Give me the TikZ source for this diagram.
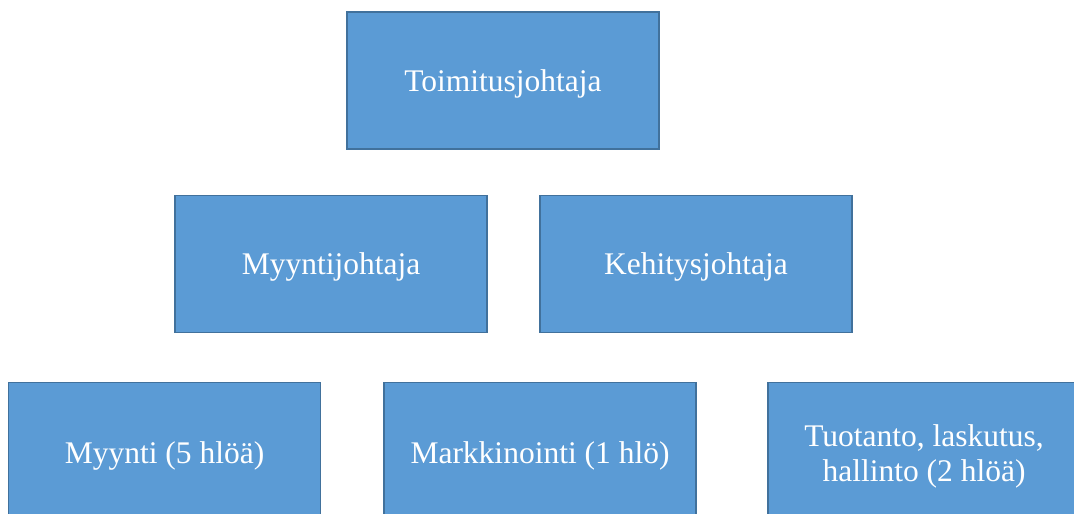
\documentclass[tikz,border=0pt]{standalone}
\usepackage{fontspec}
\setmainfont{Liberation Serif}
\definecolor{boxfill}{HTML}{5B9BD5}
\definecolor{boxline}{HTML}{41719C}
\begin{document}
\begin{tikzpicture}[x=1pt,y=-1pt,
  orgbox/.style={draw=boxline, fill=boxfill, line width=1.3pt,
    minimum width=312pt, minimum height=137pt, inner sep=0pt},
  orgtext/.style={text=white, align=center, inner sep=0pt,
    font=\fontsize{31.5}{35}\selectfont}]
  \useasboundingbox (0,0) rectangle (1074,514);
  \fill[white] (0,0) rectangle (1074,514);
  \clip (0,0) rectangle (1074,514);
  % top level
  \node[orgbox] (ceo) at (503,80.5) {};
  % second level
  \node[orgbox] (sales) at (331,264) {};
  \node[orgbox] (dev) at (696,264) {};
  % third level
  \node[orgbox] (team1) at (164.5,451) {};
  \node[orgbox] (team2) at (540,451) {};
  \node[orgbox] (team3) at (924,451) {};
  % labels, set a little below each box centre
  \node[orgtext] (ceot) at ([yshift=-3pt]ceo.center) {Toimitusjohtaja};
  \node[orgtext] (salest) at ([yshift=-3pt]sales.center) {Myyntijohtaja};
  \node[orgtext] (devt) at ([yshift=-3pt]dev.center) {Kehitysjohtaja};
  \node[orgtext] (team1t) at ([yshift=-5pt]team1.center) {Myynti (5 hlöä)};
  \node[orgtext] (team2t) at ([yshift=-5pt]team2.center) {Markkinointi (1 hlö)};
  \node[orgtext] (team3t) at ([yshift=-5pt]team3.center) {Tuotanto, laskutus,\\hallinto (2 hlöä)};
\end{tikzpicture}
\end{document}
